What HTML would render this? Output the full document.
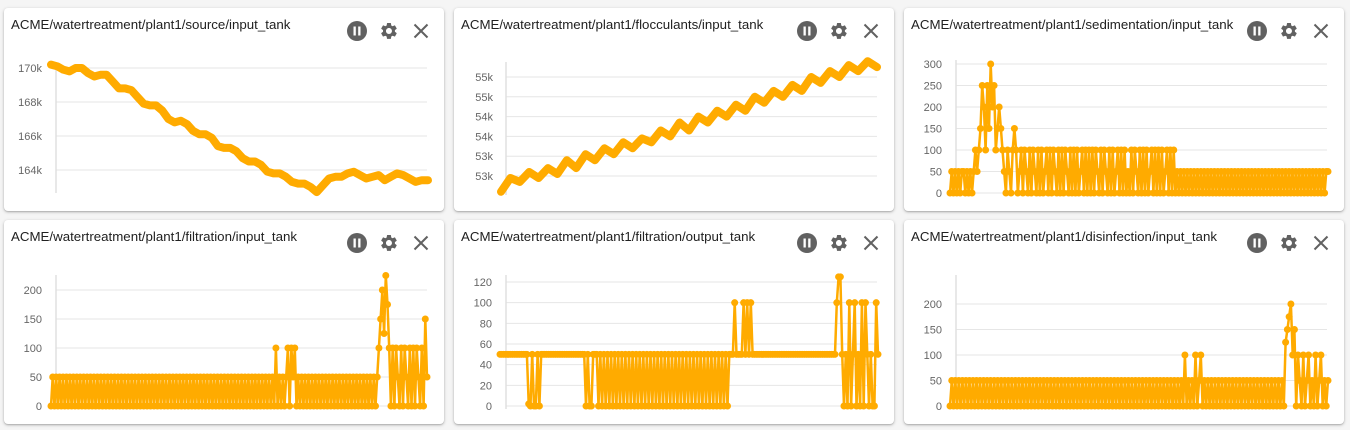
<!DOCTYPE html>
<html><head><meta charset="utf-8">
<style>
body{margin:0;width:1350px;height:430px;background:#f5f5f5;position:relative;overflow:hidden;font-family:"Liberation Sans",Arial,sans-serif}
.card{position:absolute;background:#fff;border-radius:4px;box-shadow:0 1px 3px rgba(0,0,0,.25),0 1px 1px rgba(0,0,0,.12)}
.title{position:absolute;left:7px;top:9px;font-size:13.3px;color:#212121}
#ov{position:absolute;left:0;top:0}
</style></head><body>
<div class="card" style="left:4px;top:8px;width:440px;height:203px"><div class="title">ACME/watertreatment/plant1/source/input_tank</div></div>
<div class="card" style="left:454px;top:8px;width:440px;height:203px"><div class="title">ACME/watertreatment/plant1/flocculants/input_tank</div></div>
<div class="card" style="left:904px;top:8px;width:440px;height:203px"><div class="title">ACME/watertreatment/plant1/sedimentation/input_tank</div></div>
<div class="card" style="left:4px;top:220px;width:440px;height:204px"><div class="title">ACME/watertreatment/plant1/filtration/input_tank</div></div>
<div class="card" style="left:454px;top:220px;width:440px;height:204px"><div class="title">ACME/watertreatment/plant1/filtration/output_tank</div></div>
<div class="card" style="left:904px;top:220px;width:440px;height:204px"><div class="title">ACME/watertreatment/plant1/disinfection/input_tank</div></div>
<svg id="ov" width="1350" height="430" xmlns="http://www.w3.org/2000/svg"></svg>
<script>
const sourceValues=[170.2,170.1,169.9,169.8,170.0,170.0,169.7,169.5,169.6,169.6,169.2,168.8,168.8,168.7,168.3,167.9,167.8,167.8,167.5,167.0,166.8,166.9,166.7,166.3,166.1,166.1,165.9,165.4,165.3,165.3,165.1,164.7,164.5,164.5,164.3,163.9,163.8,163.8,163.6,163.3,163.2,163.2,163.0,162.7,163.1,163.5,163.6,163.6,163.8,163.9,163.7,163.5,163.6,163.7,163.4,163.6,163.8,163.7,163.5,163.3,163.4,163.4];
const sourceTicks=[164,166,168,170];
const sourceLabels=["164k","166k","168k","170k"];
const flocValues=[52.6,52.95,52.85,53.1,52.95,53.2,53.05,53.4,53.2,53.55,53.4,53.7,53.55,53.85,53.7,53.95,53.85,54.15,54.0,54.35,54.15,54.5,54.35,54.65,54.5,54.8,54.65,55.0,54.85,55.15,55.0,55.3,55.15,55.5,55.35,55.65,55.5,55.8,55.65,55.9,55.75];
const flocTicks=[53,53.5,54,54.5,55,55.5];
const flocLabels=["53k","53k","54k","54k","55k","55k"];
const sedValues=[0,50,0,50,0,50,0,50,50,0,50,0,50,0,
50,100,50,100,150,250,200,100,250,150,300,200,250,100,150,200,150,100,50,
0,100,50,0,100,150,100,0,50,100,0,100,50,0,100,0,100,50,0,100,0,100,0,50,100,0,100,0,100,50,0,100,0,100,0,100,50,0,100,0,100,0,100,0,50,100,0,100,0,100,0,100,0,100,50,0,100,0,100,50,0,100,0,100,0,50,100,0,100,0,100,0,50,0,100,0,100,50,0,100,0,100,0,100,0,50,100,0,100,0,100,0,100,0,50,100,0,100,0,100,
0,50,0,50,0,50,0,50,0,50,0,50,0,50,0,50,0,50,0,50,0,50,0,50,0,50,0,50,0,50,0,50,0,50,0,50,0,50,0,50,0,50,0,50,0,50,0,50,0,50,0,50,0,50,0,50,0,50,0,50,0,50,0,50,0,50,0,50,0,50,0,50,0,50,0,50,0,50,0,50,0,50,0,50,0,50,0,50,0,50,50];
const sedTicks=[0,50,100,150,200,250,300];
const filtInValues=[0,50,0,50,0,50,0,50,0,50,0,50,0,50,0,50,0,50,0,50,0,50,0,50,0,50,0,50,0,50,0,50,0,50,0,50,0,50,0,50,0,50,0,50,0,50,0,50,0,50,0,50,0,50,0,50,0,50,0,50,0,50,0,50,0,50,0,50,0,50,0,50,0,50,0,50,0,50,0,50,0,50,0,50,0,50,0,50,0,50,0,50,0,50,0,50,0,50,0,50,0,50,0,50,0,50,0,50,0,50,0,50,0,50,0,50,0,50,0,50,0,50,0,50,0,50,0,50,0,50,0,
100,0,50,0,50,0,50,100,0,100,50,100,0,50,0,50,0,50,0,50,0,50,0,50,0,50,0,50,0,50,0,50,0,50,0,50,0,50,0,50,0,50,0,50,0,50,0,50,0,50,0,50,0,50,0,50,0,50,0,50,
100,150,200,125,225,175,100,0,100,0,100,50,0,100,0,100,50,0,100,0,100,0,100,50,0,100,0,150,50];
const filtInTicks=[0,50,100,150,200];
const filtOutValues=[50,50,50,50,50,50,50,50,50,50,50,50,50,50,50,50,2,0,50,0,0,50,0,50,50,50,50,50,50,50,50,50,50,50,50,50,50,50,50,50,50,50,50,50,50,50,50,50,0,50,0,0,50,50,50,0,50,0,50,0,50,0,50,0,50,0,50,0,50,0,50,0,50,0,50,0,50,0,50,0,50,0,50,0,50,0,50,0,50,0,50,0,50,0,50,0,50,0,50,0,50,0,50,0,50,0,50,0,50,0,50,0,50,0,50,0,50,0,50,0,50,0,50,0,50,0,50,0,
50,50,50,100,50,50,50,50,100,50,100,50,100,50,50,50,50,50,50,50,50,50,50,50,50,50,50,50,50,50,50,50,50,50,50,50,50,50,50,50,50,50,50,50,50,50,50,50,50,50,50,50,50,50,50,50,50,50,50,50,
100,125,125,50,0,50,0,100,0,50,100,0,50,0,100,0,100,50,0,50,0,0,100,50];
const filtOutTicks=[0,20,40,60,80,100,120];
const disInValues=[0,50,0,50,0,50,0,50,0,50,0,50,0,50,0,50,0,50,0,50,0,50,0,50,0,50,0,50,0,50,0,50,0,50,0,50,0,50,0,50,0,50,0,50,0,50,0,50,0,50,0,50,0,50,0,50,0,50,0,50,0,50,0,50,0,50,0,50,0,50,0,50,0,50,0,50,0,50,0,50,0,50,0,50,0,50,0,50,0,50,0,50,0,50,0,50,0,50,0,50,0,50,0,50,0,50,0,50,0,50,0,50,0,50,0,50,0,50,0,50,0,50,0,50,0,50,0,50,0,50,0,50,0,
100,0,50,0,50,0,100,0,50,100,0,50,0,50,0,50,0,50,0,50,0,50,0,50,0,50,0,50,0,50,0,50,0,50,0,50,0,50,0,50,0,50,0,50,0,50,0,50,0,50,0,50,0,50,0,50,0,
125,150,175,200,100,150,0,100,50,0,100,0,50,100,0,50,0,100,0,50,100,0,50,0,50];
const disInTicks=[0,50,100,150,200];

const svg=document.getElementById('ov');
const NS='http://www.w3.org/2000/svg';
function mk(t,a){const e=document.createElementNS(NS,t);for(const k in a)e.setAttribute(k,a[k]);svg.appendChild(e);return e;}
function chart(name,vals,ticks,labels,c){
  const ys=v=>c.y0+(v-c.t0)*(c.y1-c.y0)/(c.t1-c.t0);
  const xs=i=>c.xL+i*(c.xR-c.xL)/(vals.length-1);
  ticks.forEach((t,i)=>{
    const g=mk('line',{x1:c.ax,x2:c.gx,y1:ys(t),y2:ys(t),stroke:'#e6e6e6','stroke-width':1});
    
    
    const tx=mk('text',{x:c.lx,y:ys(t)+4,'text-anchor':'end','font-size':11,fill:'#666','font-family':'Liberation Sans, sans-serif'});
    tx.textContent=labels?labels[i]:String(t);
    
    
  });
  const ax=mk('line',{x1:c.ax,x2:c.ax,y1:c.at,y2:c.ab,stroke:'#e0e0e0','stroke-width':1.5});
  
  
  const pts=vals.map((v,i)=>xs(i).toFixed(1)+','+ys(v).toFixed(1)).join(' ');
  const pl=mk('polyline',{points:pts,fill:'none',stroke:'#ffab00','stroke-width':c.sw,'stroke-linejoin':'round','stroke-linecap':'round'});
  
  
  if(c.r){vals.forEach((v,i)=>{
    const p=mk('circle',{cx:xs(i),cy:ys(v),r:c.r,fill:'#ffab00'});
    
    
  });}
}
chart('source',sourceValues,sourceTicks,sourceLabels,{xL:51,xR:428,t0:164,t1:170,y0:170,y1:68,ax:56,gx:427,lx:42,at:62,ab:193,sw:8,r:0});
chart('flocculants',flocValues,flocTicks,flocLabels,{xL:501,xR:877,t0:53,t1:55.5,y0:176,y1:77,ax:506,gx:877,lx:493,at:62,ab:195,sw:8,r:0});
chart('sedimentation',sedValues,sedTicks,null,{xL:950,xR:1328,t0:0,t1:300,y0:193,y1:64,ax:956,gx:1327,lx:942,at:60,ab:196,sw:2.5,r:3.5});
chart('filtration-input',filtInValues,filtInTicks,null,{xL:51,xR:427,t0:0,t1:200,y0:406,y1:290,ax:56,gx:427,lx:42,at:275,ab:409,sw:2.5,r:3.5});
chart('filtration-output',filtOutValues,filtOutTicks,null,{xL:500,xR:878,t0:0,t1:120,y0:406,y1:282,ax:506,gx:877,lx:492,at:275,ab:409,sw:2.5,r:3.5});
chart('disinfection-input',disInValues,disInTicks,null,{xL:950,xR:1328,t0:0,t1:200,y0:406,y1:304,ax:956,gx:1327,lx:942,at:275,ab:409,sw:2.5,r:3.5});

[[4,8],[454,8],[904,8],[4,220],[454,220],[904,220]].forEach(([cx,cy])=>{
  const px=cx+353, py=cy+23;
  const c=mk('circle',{cx:px,cy:py,r:10,fill:'#616161'});
  
  
  mk('rect',{x:px-3.5,y:py-4.5,width:2.3,height:9,fill:'#fff'});
  mk('rect',{x:px+1.2,y:py-4.5,width:2.3,height:9,fill:'#fff'});
  const gx=cx+385;
  const g=mk('g',{transform:'translate('+(gx-10)+','+(py-10)+') scale(0.83)',fill:'#616161'});
  
  
  const gp=document.createElementNS(NS,'path');
  gp.setAttribute('d','M19.14 12.94c.04-.3.06-.61.06-.94 0-.32-.02-.64-.07-.94l2.03-1.58a.49.49 0 00.12-.61l-1.92-3.32a.488.488 0 00-.59-.22l-2.39.96c-.5-.38-1.03-.7-1.620-.94l-.36-2.54a.484.484 0 00-.48-.41h-3.84c-.24 0-.43.17-.47.41l-.36 2.54c-.59.24-1.13.57-1.62.94l-2.39-.96c-.22-.08-.47 0-.59.22L2.74 8.87c-.12.21-.08.47.12.61l2.03 1.58c-.05.3-.09.63-.09.94s.02.64.07.94l-2.03 1.58a.49.49 0 00-.12.61l1.920 3.32c.12.22.37.29.59.22l2.39-.96c.5.38 1.03.7 1.62.94l.36 2.54c.05.24.24.41.48.41h3.84c.24 0 .44-.17.47-.41l.36-2.54c.59-.24 1.13-.56 1.62-.94l2.39.96c.22.08.47 0 .59-.22l1.92-3.32c.12-.22.07-.47-.12-.61l-2.01-1.58zM12 15.6c-1.98 0-3.6-1.62-3.6-3.6s1.62-3.6 3.6-3.6 3.6 1.62 3.6 3.6-1.62 3.6-3.6 3.6z');
  g.appendChild(gp);
  const xx=cx+417;
  const x1=mk('path',{d:`M${xx-6.5} ${py-6.5}L${xx+6.5} ${py+6.5}M${xx+6.5} ${py-6.5}L${xx-6.5} ${py+6.5}`,stroke:'#616161','stroke-width':2,fill:'none'});
  
  
});
</script>
</body></html>
